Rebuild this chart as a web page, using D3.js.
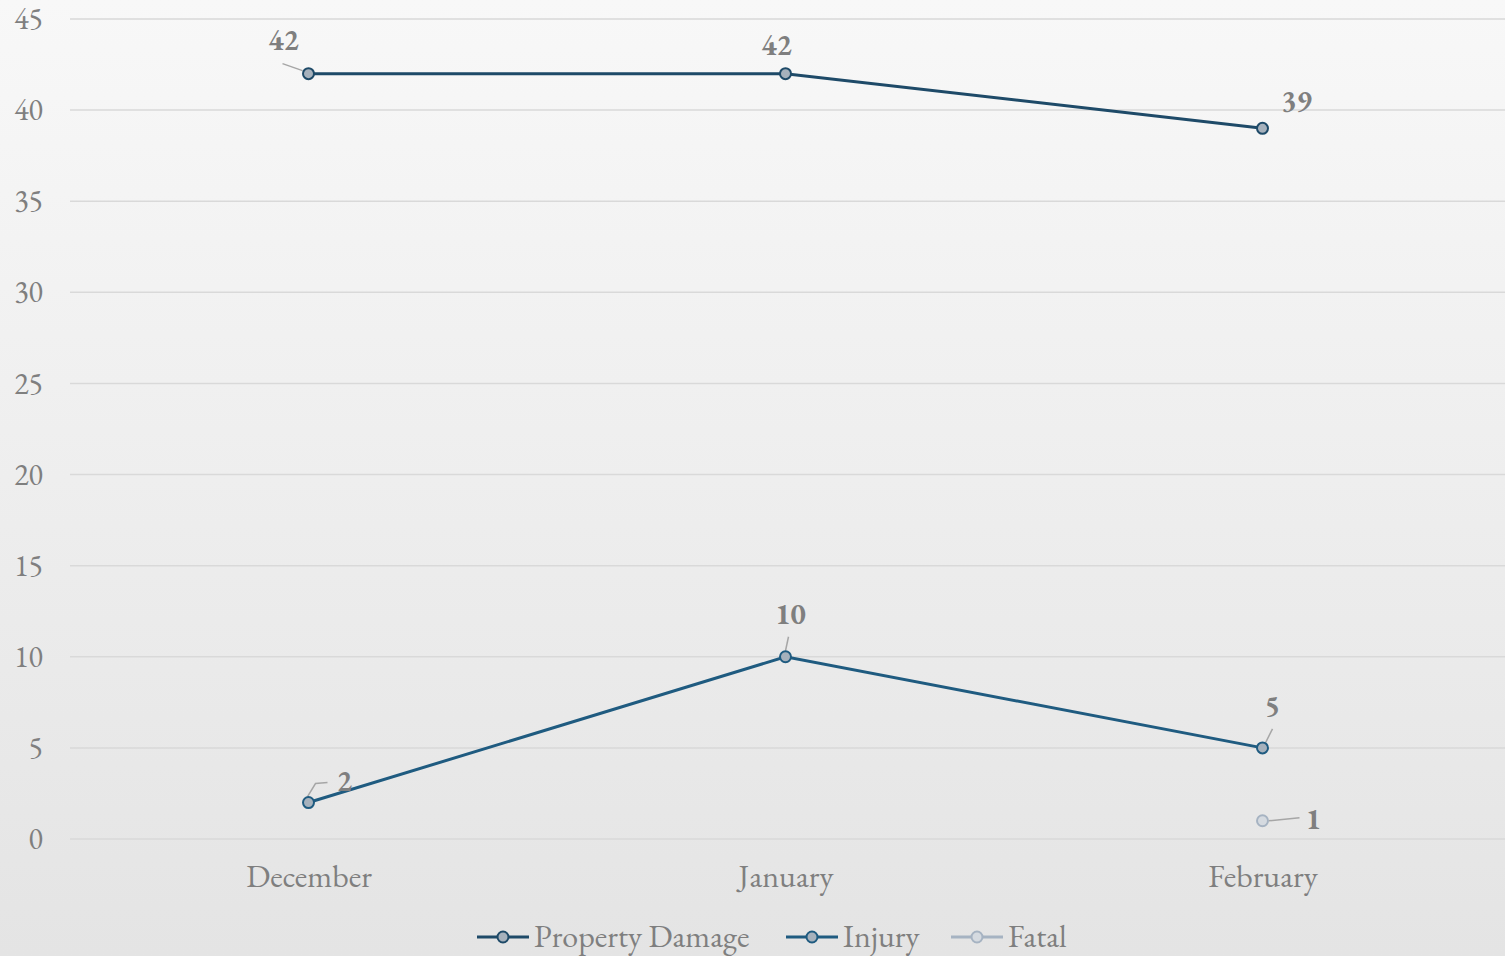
<!DOCTYPE html>
<html><head><meta charset="utf-8">
<script src="https://cdn.jsdelivr.net/npm/d3@7"></script>
<style>html,body{margin:0;padding:0;overflow:hidden}</style>
</head><body>
<svg id="c" width="1505" height="956"></svg>
<script>
const categories = ["December", "January", "February"];
const propertyDamage = [42, 42, 39];
const injury = [2, 10, 5];
const fatal = [null, null, 1];
const yTicks = [0, 5, 10, 15, 20, 25, 30, 35, 40, 45];
const seriesNames = ["Property Damage", "Injury", "Fatal"];

// label offsets (label centre relative to point) and leader polylines (relative to point)
const series = [
  {name: seriesNames[0], values: propertyDamage, color: "#1e4a68", fill: "#a6b1bc",
   lab: [[-25, -34], [-9, -29], [34, -27]],
   lead: [[[-6, -3], [-26, -10]], null, null]},
  {name: seriesNames[1], values: injury, color: "#1f5b80", fill: "#a6b1bc",
   lab: [[36, -22], [5, -43], [10, -42]],
   lead: [[[-1, -6], [7, -19], [19, -20]], [[0, -6], [3, -20]], [[3, -5], [10, -19]]]},
  {name: seriesNames[2], values: fatal, color: "#a6b3c2", fill: "#d5dae0",
   lab: [null, null, [51, -2]],
   lead: [null, null, [[6, 0], [37, -3]]]}
];

const W = 1505, H = 956;
const svg = d3.select("#c");
const defs = svg.append("defs");
const grad = defs.append("linearGradient").attr("id", "bg").attr("x1", 0).attr("y1", 0).attr("x2", 0).attr("y2", 1);
grad.append("stop").attr("offset", "0%").attr("stop-color", "#f8f8f8");
grad.append("stop").attr("offset", "100%").attr("stop-color", "#e4e4e4");
svg.append("rect").attr("width", W).attr("height", H).attr("fill", "url(#bg)");

const font = "'EB Garamond', Garamond, 'Liberation Serif', serif";
const pLeft = 70, pRight = 1501, pTop = 19, pBottom = 839;
const x = d3.scalePoint().domain(categories).range([pLeft, pRight]).padding(0.5);
const y = d3.scaleLinear().domain([0, 45]).range([pBottom, pTop]);

// gridlines
svg.append("g").selectAll("line").data(yTicks).join("line")
  .attr("x1", pLeft).attr("x2", W).attr("y1", d => y(d)).attr("y2", d => y(d))
  .attr("stroke", "#d9d9d9").attr("stroke-width", 1.5);

// y axis
const yAxis = svg.append("g").attr("transform", `translate(${pLeft},0)`)
  .call(d3.axisLeft(y).tickValues(yTicks).tickSize(0).tickPadding(27));
yAxis.select(".domain").remove();
yAxis.selectAll("text").attr("font-family", font).attr("font-size", 30).attr("fill", "#7f7f7f");

// x axis
const xAxis = svg.append("g").attr("transform", `translate(0,${pBottom})`)
  .call(d3.axisBottom(x).tickSize(0).tickPadding(25));
xAxis.select(".domain").remove();
xAxis.selectAll("text").attr("font-family", font).attr("font-size", 32).attr("fill", "#7f7f7f");

const line = d3.line().defined(d => d != null).x((d, i) => x(categories[i])).y(d => y(d));
const lead = d3.line();

series.forEach(s => {
  const pts = s.values.map((v, i) => ({v, i})).filter(p => p.v != null);
  svg.append("path").datum(s.values).attr("d", line)
    .attr("fill", "none").attr("stroke", s.color).attr("stroke-width", 3);
  pts.forEach(p => {
    const cx = x(categories[p.i]), cy = y(p.v);
    if (s.lead[p.i]) {
      svg.append("path").attr("d", lead(s.lead[p.i].map(q => [cx + q[0], cy + q[1]])))
        .attr("fill", "none").attr("stroke", "#a6a6a6").attr("stroke-width", 1.5);
    }
  });
  svg.append("g").selectAll("circle").data(pts).join("circle")
    .attr("cx", p => x(categories[p.i])).attr("cy", p => y(p.v)).attr("r", 5.5)
    .attr("fill", s.fill).attr("stroke", s.color).attr("stroke-width", 2);
  svg.append("g").selectAll("text").data(pts).join("text")
    .attr("x", p => x(categories[p.i]) + s.lab[p.i][0])
    .attr("y", p => y(p.v) + s.lab[p.i][1])
    .attr("dy", "0.35em")
    .attr("text-anchor", "middle")
    .attr("font-family", font).attr("font-size", 29).attr("font-weight", "bold")
    .attr("fill", "#7f7f7f").text(p => p.v);
});

// legend
const legendX = [477, 786, 951];
const lg = svg.append("g");
series.forEach((s, k) => {
  const g = lg.append("g").attr("transform", `translate(${legendX[k]},937)`);
  g.append("line").attr("x1", 0).attr("x2", 52).attr("stroke", s.color).attr("stroke-width", 3);
  g.append("circle").attr("cx", 26).attr("r", 5.5).attr("fill", s.fill).attr("stroke", s.color).attr("stroke-width", 2);
  g.append("text").attr("x", 57).attr("y", 10).attr("font-family", font).attr("font-size", 32)
    .attr("fill", "#7f7f7f").text(s.name);
});
</script>
</body></html>
